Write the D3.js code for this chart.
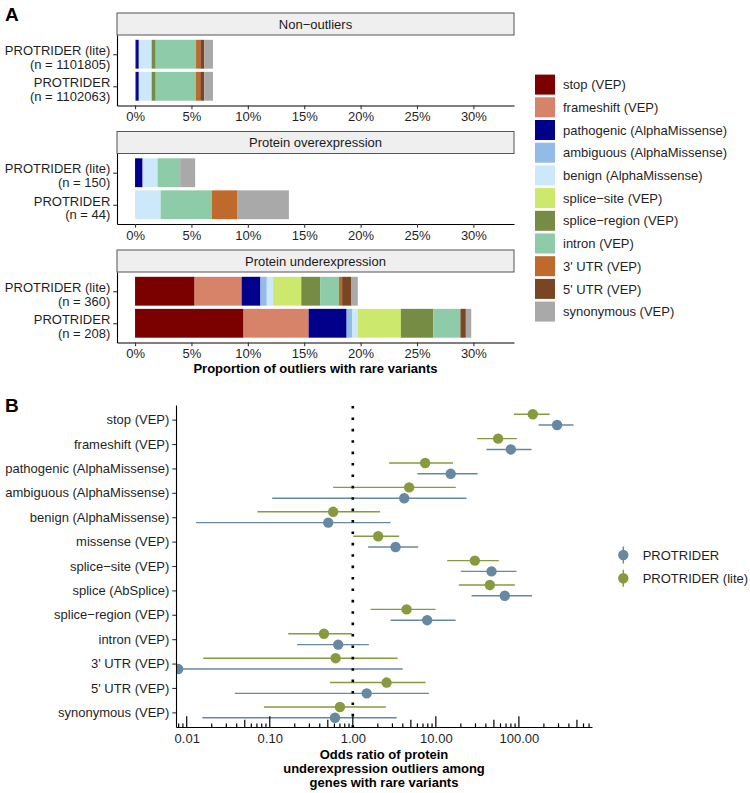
<!DOCTYPE html>
<html>
<head>
<meta charset="utf-8">
<script src="https://cdn.jsdelivr.net/npm/d3@7"></script>
<style>
body{margin:0;background:#fff;}
svg text{font-family:"Liberation Sans", Arial, Helvetica, sans-serif;}
</style>
</head>
<body>
<svg id="fig" width="750" height="793"></svg>
<script>
// ---- panel A data (percent of outliers with a rare variant of each class)
var variantClasses = ['stop (VEP)', 'frameshift (VEP)', 'pathogenic (AlphaMissense)', 'ambiguous (AlphaMissense)',
    'benign (AlphaMissense)', 'splice\u2212site (VEP)', 'splice\u2212region (VEP)', 'intron (VEP)',
    "3' UTR (VEP)", "5' UTR (VEP)", 'synonymous (VEP)'];
var variantColors = ['#7b0000', '#d7836a', '#00008a', '#92bbe8', '#cde8fa', '#cde96d', '#768b43',
    '#8ecba8', '#c0692d', '#7a4522', '#a9a9a9'];
var facetTitles = ['Non\u2212outliers', 'Protein overexpression', 'Protein underexpression'];
var methods = ['PROTRIDER (lite)', 'PROTRIDER'];
var sampleN = [[1101805, 1102063], [150, 44], [360, 208]];

var nonOutlierLite = [0.05, 0.04, 0.24, 0.03, 1.06, 0.06, 0.35, 3.58, 0.38, 0.36, 0.76];
var nonOutlierFull = [0.05, 0.04, 0.24, 0.03, 1.06, 0.06, 0.35, 3.57, 0.38, 0.36, 0.77];
var overLite = [0, 0, 0.67, 0, 1.33, 0, 0, 2.00, 0, 0, 1.33];
var overFull = [0, 0, 0, 0, 2.27, 0, 0, 4.55, 2.27, 0, 4.55];
var underLite = [5.28, 4.17, 1.67, 0.56, 0.56, 2.50, 1.67, 1.67, 0.28, 0.83, 0.56];
var underFull = [9.62, 5.77, 3.37, 0.48, 0.48, 3.85, 2.88, 2.40, 0, 0.48, 0.48];
var percentTicks = [0, 5, 10, 15, 20, 25, 30];

// ---- panel B data (odds ratios with 95% CI)
var orCategories = ['stop (VEP)', 'frameshift (VEP)', 'pathogenic (AlphaMissense)', 'ambiguous (AlphaMissense)',
    'benign (AlphaMissense)', 'missense (VEP)', 'splice\u2212site (VEP)', 'splice (AbSplice)',
    'splice\u2212region (VEP)', 'intron (VEP)', "3' UTR (VEP)", "5' UTR (VEP)", 'synonymous (VEP)'];
var orFull = [288, 80, 15.1, 4.16, 0.506, 3.27, 46.8, 67.6, 7.86, 0.667, 0.0079, 1.47, 0.61];
var orFullLo = [173, 40.7, 6.0, 0.107, 0.0129, 1.53, 20.0, 26.9, 2.85, 0.214, 0.001, 0.038, 0.0154];
var orFullHi = [454, 142, 31.8, 23.4, 2.85, 6.12, 93.5, 144, 17.3, 1.56, 3.98, 8.24, 3.37];
var orLite = [147, 56.2, 7.43, 4.77, 0.58, 2.02, 29.5, 44.7, 4.44, 0.449, 0.621, 2.55, 0.70];
var orLiteLo = [87, 31.4, 2.74, 0.58, 0.071, 1.01, 13.7, 18.9, 1.64, 0.167, 0.0158, 0.53, 0.085];
var orLiteHi = [235, 94.4, 16.1, 17.4, 2.12, 3.62, 57.3, 89.3, 9.92, 0.984, 3.46, 7.52, 2.5];
var orTicks = [0.01, 0.1, 1, 10, 100];
var orMethods = ['PROTRIDER', 'PROTRIDER (lite)'];
var orColors = ['#6688a2', '#879a3d'];

var svg = d3.select('#fig');
var textCol = '#1f1f1f';
var fs = 13;

function styleAxis(g){
    g.attr('font-size', fs).attr('font-family', null);
    g.select('.domain').attr('stroke', '#000').attr('stroke-width', 1.1);
    g.selectAll('.tick line').attr('stroke', '#333').attr('stroke-width', 1.1);
    g.selectAll('.tick text').attr('fill', textCol);
}

// ================= panel A =================
function panelA(){
    var left = 117, right = 514;
    var stripTops = [13, 131.5, 250];
    var stripH = 22, panelH = 70.5;
    var facetValues = [[nonOutlierLite, nonOutlierFull], [overLite, overFull], [underLite, underFull]];

    var x = d3.scaleLinear().domain([-1.6, 33.6]).range([left, right]);
    var color = d3.scaleOrdinal().domain(variantClasses).range(variantColors);
    var stack = d3.stack().keys(variantClasses);

    svg.append('text').attr('x', 5).attr('y', 21).attr('font-size', 19).attr('font-weight', 'bold').text('A');

    facetValues.forEach(function(vals, i){
        var top = stripTops[i];
        var g = svg.append('g');

        g.append('rect')
            .attr('x', left).attr('y', top)
            .attr('width', right - left).attr('height', stripH)
            .attr('fill', '#efefef').attr('stroke', '#555').attr('stroke-width', 1);
        g.append('text')
            .attr('x', (left + right) / 2).attr('y', top + stripH / 2)
            .attr('dy', '0.36em').attr('text-anchor', 'middle')
            .attr('font-size', fs).attr('fill', '#1a1a1a')
            .text(facetTitles[i]);

        var y = d3.scalePoint().domain(methods)
            .range([top + stripH, top + stripH + panelH]).padding(0.6);
        var bw = y.step() * 0.9;

        var rows = methods.map(function(m, j){
            var r = {method: m, n: sampleN[i][j]};
            variantClasses.forEach(function(c, k){ r[c] = vals[j][k]; });
            return r;
        });

        g.append('g').selectAll('g')
            .data(stack(rows))
            .join('g')
            .attr('fill', function(d){ return color(d.key); })
            .selectAll('rect')
            .data(function(d){ return d; })
            .join('rect')
            .attr('x', function(d){ return x(d[0]); })
            .attr('width', function(d){ return Math.max(0, x(d[1]) - x(d[0])); })
            .attr('y', function(d){ return y(d.data.method) - bw / 2; })
            .attr('height', bw);

        var bottom = top + stripH + panelH;
        g.append('g')
            .attr('transform', 'translate(0,' + bottom + ')')
            .call(d3.axisBottom(x).tickValues(percentTicks)
                .tickFormat(function(d){ return d + '%'; })
                .tickSize(3.7).tickSizeOuter(0).tickPadding(2.8))
            .call(styleAxis);

        var ya = g.append('g')
            .attr('transform', 'translate(' + left + ',0)')
            .call(d3.axisLeft(y).tickSize(3.7).tickSizeOuter(0).tickPadding(3))
            .call(styleAxis);
        ya.selectAll('.tick text').each(function(m, j){
            var t = d3.select(this).text(null).attr('dy', null).attr('y', 0);
            t.append('tspan').attr('x', -6.7).attr('dy', '0.02em').text(m);
            t.append('tspan').attr('x', -6.7).attr('dy', '1.06em').text('(n = ' + sampleN[i][j] + ')');
        });
    });

    svg.append('text')
        .attr('x', (left + right) / 2).attr('y', 372.5)
        .attr('text-anchor', 'middle').attr('font-size', fs).attr('font-weight', 'bold')
        .text('Proportion of outliers with rare variants');

    // legend
    var lg = svg.append('g').attr('transform', 'translate(535,74.6)');
    var item = lg.selectAll('g').data(variantClasses).join('g')
        .attr('transform', function(d, k){ return 'translate(0,' + (k * 22.7) + ')'; });
    item.append('rect').attr('width', 20).attr('height', 20)
        .attr('fill', function(d){ return color(d); });
    item.append('text').attr('x', 28).attr('y', 10).attr('dy', '0.36em')
        .attr('font-size', fs).attr('fill', textCol)
        .text(function(d){ return d; });
}

// ================= panel B =================
function panelB(){
    var left = 176, right = 592, top = 405, bottom = 727;
    var x = d3.scaleLog().domain([0.00743, 759]).range([left, right]);
    var y = d3.scalePoint().domain(orCategories).range([top, bottom]).padding(0.6);

    svg.append('text').attr('x', 5).attr('y', 412).attr('font-size', 19).attr('font-weight', 'bold').text('B');

    svg.append('clipPath').attr('id', 'clipB')
        .append('rect').attr('x', left).attr('y', top).attr('width', right - left).attr('height', bottom - top);

    var series = [
        {name: 'PROTRIDER (lite)', color: orColors[1], est: orLite, lo: orLiteLo, hi: orLiteHi, dy: -5.4},
        {name: 'PROTRIDER', color: orColors[0], est: orFull, lo: orFullLo, hi: orFullHi, dy: 5.4}
    ];

    var plot = svg.append('g').attr('clip-path', 'url(#clipB)');

    series.forEach(function(s){
        var pts = orCategories.map(function(c, k){
            return {cat: c, est: s.est[k], lo: s.lo[k], hi: s.hi[k]};
        });
        var sg = plot.append('g');
        sg.selectAll('line').data(pts).join('line')
            .attr('x1', function(d){ return x(d.lo); })
            .attr('x2', function(d){ return x(d.hi); })
            .attr('y1', function(d){ return y(d.cat) + s.dy; })
            .attr('y2', function(d){ return y(d.cat) + s.dy; })
            .attr('stroke', s.color).attr('stroke-width', 1.4);
        sg.selectAll('circle').data(pts).join('circle')
            .attr('cx', function(d){ return x(d.est); })
            .attr('cy', function(d){ return y(d.cat) + s.dy; })
            .attr('r', 5.2).attr('fill', s.color);
    });

    // reference line at OR = 1
    plot.append('line')
        .attr('x1', x(1)).attr('x2', x(1)).attr('y1', top + 1).attr('y2', bottom)
        .attr('stroke', '#000').attr('stroke-width', 2.6).attr('stroke-dasharray', '2.6 8.8');

    // log ticks along the bottom
    var logTicks = [];
    for (var e = -3; e <= 2; e++){
        for (var m = 1; m <= 9; m++){
            var v = m * Math.pow(10, e);
            if (v >= x.domain()[0] && v <= x.domain()[1]) logTicks.push({v: v, m: m});
        }
    }
    svg.append('g').selectAll('line').data(logTicks).join('line')
        .attr('x1', function(d){ return x(d.v); })
        .attr('x2', function(d){ return x(d.v); })
        .attr('y1', bottom)
        .attr('y2', function(d){ return bottom - (d.m == 1 ? 10.7 : (d.m == 5 ? 7.2 : 3.6)); })
        .attr('stroke', '#000').attr('stroke-width', 1.2);

    svg.append('g')
        .attr('transform', 'translate(0,' + bottom + ')')
        .call(d3.axisBottom(x).tickValues(orTicks).tickFormat(d3.format('.2f'))
            .tickSize(0).tickSizeOuter(0).tickPadding(7))
        .call(styleAxis);

    svg.append('g')
        .attr('transform', 'translate(' + left + ',0)')
        .call(d3.axisLeft(y).tickSize(3.7).tickSizeOuter(0).tickPadding(3))
        .call(styleAxis);

    var title = ['Odds ratio of protein', 'underexpression outliers among', 'genes with rare variants'];
    svg.append('g').selectAll('text').data(title).join('text')
        .attr('x', (left + right) / 2)
        .attr('y', function(d, k){ return 758.8 + k * 14.3; })
        .attr('text-anchor', 'middle').attr('font-size', fs).attr('font-weight', 'bold')
        .text(function(d){ return d; });

    // legend
    var lg = svg.append('g').attr('transform', 'translate(623.3,555)');
    var item = lg.selectAll('g').data(orMethods).join('g')
        .attr('transform', function(d, k){ return 'translate(0,' + (k * 23.3) + ')'; });
    item.append('line').attr('y1', -8.5).attr('y2', 8.5)
        .attr('stroke', function(d, k){ return orColors[k]; }).attr('stroke-width', 1.4);
    item.append('circle').attr('r', 5.2)
        .attr('fill', function(d, k){ return orColors[k]; });
    item.append('text').attr('x', 19.4).attr('dy', '0.36em')
        .attr('font-size', fs).attr('fill', textCol)
        .text(function(d){ return d; });
}

panelA();
panelB();
</script>
</body>
</html>
